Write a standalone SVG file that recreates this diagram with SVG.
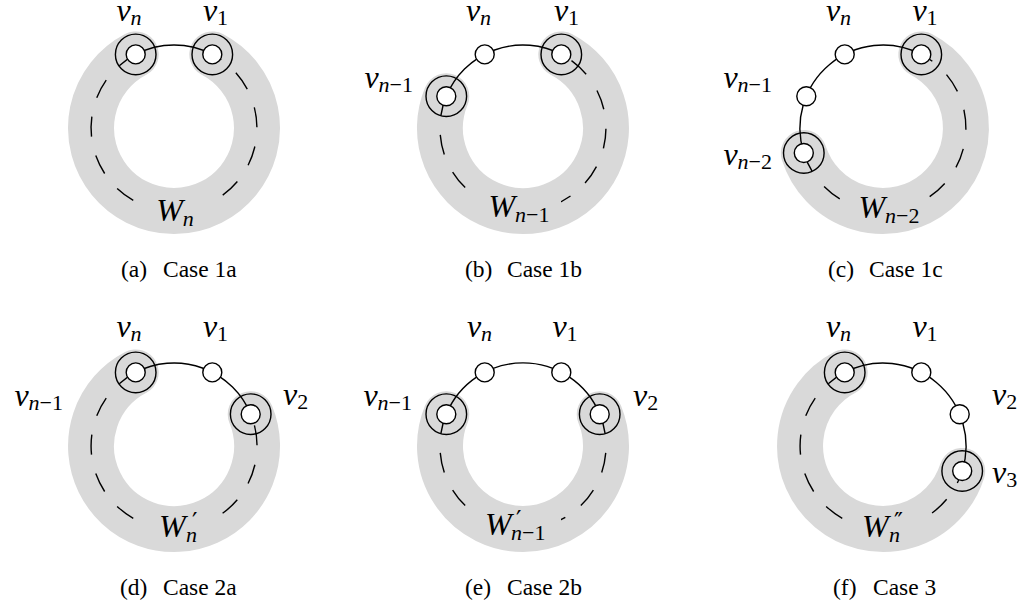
<svg xmlns="http://www.w3.org/2000/svg" width="1020" height="605" viewBox="0 0 1020 605">
<style>
.band{fill:none;stroke:#d9d9d9;stroke-width:46;stroke-linecap:round}
.dash{fill:none;stroke:#000;stroke-width:1.4;stroke-dasharray:20 19.5}
.edge{fill:none;stroke:#000;stroke-width:1.4}
.ring{fill:none;stroke:#000;stroke-width:1.4}
.node{fill:#fff;stroke:#000;stroke-width:1.4}
.bg{fill:#d9d9d9}
.m{font-family:"Liberation Serif",serif;font-style:italic;font-size:32px;fill:#000}
.s{font-size:22px}
.r{font-style:normal}
.p{font-family:"DejaVu Sans",sans-serif;font-style:normal;font-size:24px}
.cap{font-family:"Liberation Serif",serif;font-size:23.5px;fill:#000}
</style>
<rect width="1020" height="605" fill="#fff"/>

<!-- Panel (a) -->
<g id="panel-a">
  <g id="a-W">
    <path class="band" d="M135.7,54.4 A83,83 0 1 0 212.3,54.4"/>
  </g>
  <g id="a-connectors">
    <path class="dash" d="M135.7,54.4 A83,83 0 0 0 174,211"/>
    <path class="dash" style="stroke-dashoffset:9.5" d="M212.3,54.4 A83,83 0 0 1 174,211"/>
    <path class="edge" d="M135.7,54.4 A83,83 0 0 1 212.3,54.4"/>
  </g>
  <g id="a-W-label">
    <rect class="bg" x="146" y="196" width="61" height="31"/>
    <text class="m" x="175" y="221" text-anchor="middle">W<tspan class="s" dy="5">n</tspan></text>
  </g>
  <g id="a-vn"><circle class="ring" cx="135.7" cy="54.4" r="20.3"/><circle class="node" cx="135.7" cy="54.4" r="9.5"/>
    <text class="m" x="129" y="21" text-anchor="middle">v<tspan class="s" dy="4">n</tspan></text></g>
  <g id="a-v1"><circle class="ring" cx="212.3" cy="54.4" r="20.3"/><circle class="node" cx="212.3" cy="54.4" r="9.5"/>
    <text class="m" x="215.5" y="21" text-anchor="middle">v<tspan class="s r" dy="4">1</tspan></text></g>
  <text class="cap" y="277"><tspan x="121">(a)</tspan><tspan x="163">Case 1a</tspan></text>
</g>

<!-- Panel (b) -->
<g id="panel-b">
  <g id="b-W">
    <path class="band" d="M446.3,96.2 A83,83 0 1 0 561.3,54.4"/>
  </g>
  <g id="b-connectors">
    <path class="dash" d="M446.3,96.2 A83,83 0 0 0 523,211"/>
    <path class="dash" style="stroke-dashoffset:27.5" d="M561.3,54.4 A83,83 0 0 1 523,211"/>
    <path class="edge" d="M446.3,96.2 A83,83 0 0 1 561.3,54.4"/>
  </g>
  <g id="b-W-label">
    <rect class="bg" x="479" y="194" width="82" height="30"/>
    <text class="m" x="519" y="217" text-anchor="middle">W<tspan class="s" dy="5">n</tspan><tspan class="s r">−1</tspan></text>
  </g>
  <g id="b-vn1"><circle class="ring" cx="446.3" cy="96.2" r="20.3"/><circle class="node" cx="446.3" cy="96.2" r="9.5"/>
    <text class="m" x="413" y="88" text-anchor="end">v<tspan class="s" dy="4">n</tspan><tspan class="s r">−1</tspan></text></g>
  <g id="b-vn"><circle class="node" cx="484.7" cy="54.4" r="9.5"/>
    <text class="m" x="478.5" y="21" text-anchor="middle">v<tspan class="s" dy="4">n</tspan></text></g>
  <g id="b-v1"><circle class="ring" cx="561.3" cy="54.4" r="20.3"/><circle class="node" cx="561.3" cy="54.4" r="9.5"/>
    <text class="m" x="566.5" y="21" text-anchor="middle">v<tspan class="s r" dy="4">1</tspan></text></g>
  <text class="cap" y="277"><tspan x="465">(b)</tspan><tspan x="507">Case 1b</tspan></text>
</g>

<!-- Panel (c) -->
<g id="panel-c">
  <g id="c-W">
    <path class="band" d="M803.8,153 A83,83 0 1 0 921.3,54.4"/>
  </g>
  <g id="c-connectors">
    <path class="dash" d="M803.8,153 A83,83 0 0 0 883,211"/>
    <path class="dash" style="stroke-dashoffset:7" d="M921.3,54.4 A83,83 0 0 1 883,211"/>
    <path class="edge" d="M803.8,153 A83,83 0 0 1 921.3,54.4"/>
  </g>
  <g id="c-W-label">
    <rect class="bg" x="850" y="194" width="77" height="30"/>
    <text class="m" x="889" y="218" text-anchor="middle">W<tspan class="s" dy="5">n</tspan><tspan class="s r">−2</tspan></text>
  </g>
  <g id="c-vn2"><circle class="ring" cx="803.8" cy="153" r="20.3"/><circle class="node" cx="803.8" cy="153" r="9.5"/>
    <text class="m" x="772" y="165" text-anchor="end">v<tspan class="s" dy="4">n</tspan><tspan class="s r">−2</tspan></text></g>
  <g id="c-vn1"><circle class="node" cx="806.3" cy="96.2" r="9.5"/>
    <text class="m" x="772" y="88" text-anchor="end">v<tspan class="s" dy="4">n</tspan><tspan class="s r">−1</tspan></text></g>
  <g id="c-vn"><circle class="node" cx="844.7" cy="54.4" r="9.5"/>
    <text class="m" x="838.5" y="21" text-anchor="middle">v<tspan class="s" dy="4">n</tspan></text></g>
  <g id="c-v1"><circle class="ring" cx="921.3" cy="54.4" r="20.3"/><circle class="node" cx="921.3" cy="54.4" r="9.5"/>
    <text class="m" x="925" y="21" text-anchor="middle">v<tspan class="s r" dy="4">1</tspan></text></g>
  <text class="cap" y="277"><tspan x="828">(c)</tspan><tspan x="869">Case 1c</tspan></text>
</g>

<!-- Panel (d) -->
<g id="panel-d">
  <g id="d-W">
    <path class="band" d="M135.7,372.4 A83,83 0 1 0 250.7,414.2"/>
  </g>
  <g id="d-connectors">
    <path class="dash" d="M135.7,372.4 A83,83 0 0 0 174,529"/>
    <path class="dash" style="stroke-dashoffset:27.5" d="M250.7,414.2 A83,83 0 0 1 174,529"/>
    <path class="edge" d="M135.7,372.4 A83,83 0 0 1 250.7,414.2"/>
  </g>
  <g id="d-W-label">
    <rect class="bg" x="148" y="512" width="61" height="31"/>
    <text class="m" y="537"><tspan x="159">W</tspan><tspan class="p" x="192" y="530">′</tspan><tspan class="s" x="186" y="542">n</tspan></text>
  </g>
  <g id="d-vn"><circle class="ring" cx="135.7" cy="372.4" r="20.3"/><circle class="node" cx="135.7" cy="372.4" r="9.5"/>
    <text class="m" x="129" y="337" text-anchor="middle">v<tspan class="s" dy="4">n</tspan></text></g>
  <g id="d-v1"><circle class="node" cx="212.3" cy="372.4" r="9.5"/>
    <text class="m" x="215.5" y="337" text-anchor="middle">v<tspan class="s r" dy="4">1</tspan></text></g>
  <g id="d-v2"><circle class="ring" cx="250.7" cy="414.2" r="20.3"/><circle class="node" cx="250.7" cy="414.2" r="9.5"/>
    <text class="m" x="283" y="405">v<tspan class="s r" dy="4">2</tspan></text></g>
  <text class="m" x="63" y="406" text-anchor="end">v<tspan class="s" dy="4">n</tspan><tspan class="s r">−1</tspan></text>
  <text class="cap" y="595"><tspan x="120">(d)</tspan><tspan x="163">Case 2a</tspan></text>
</g>

<!-- Panel (e) -->
<g id="panel-e">
  <g id="e-W">
    <path class="band" d="M446.3,414.2 A83,83 0 1 0 599.7,414.2"/>
  </g>
  <g id="e-connectors">
    <path class="dash" d="M446.3,414.2 A83,83 0 0 0 523,529"/>
    <path class="dash" d="M599.7,414.2 A83,83 0 0 1 523,529"/>
    <path class="edge" d="M446.3,414.2 A83,83 0 0 1 599.7,414.2"/>
  </g>
  <g id="e-W-label">
    <rect class="bg" x="479" y="512" width="82" height="30"/>
    <text class="m" y="535"><tspan x="485">W</tspan><tspan class="p" x="516" y="528">′</tspan><tspan class="s" x="511" y="540">n</tspan><tspan class="s r">−1</tspan></text>
  </g>
  <g id="e-vn1"><circle class="ring" cx="446.3" cy="414.2" r="20.3"/><circle class="node" cx="446.3" cy="414.2" r="9.5"/>
    <text class="m" x="412" y="406" text-anchor="end">v<tspan class="s" dy="4">n</tspan><tspan class="s r">−1</tspan></text></g>
  <g id="e-vn"><circle class="node" cx="484.7" cy="372.4" r="9.5"/>
    <text class="m" x="479.5" y="337" text-anchor="middle">v<tspan class="s" dy="4">n</tspan></text></g>
  <g id="e-v1"><circle class="node" cx="561.3" cy="372.4" r="9.5"/>
    <text class="m" x="565" y="337" text-anchor="middle">v<tspan class="s r" dy="4">1</tspan></text></g>
  <g id="e-v2"><circle class="ring" cx="599.7" cy="414.2" r="20.3"/><circle class="node" cx="599.7" cy="414.2" r="9.5"/>
    <text class="m" x="633" y="406">v<tspan class="s r" dy="4">2</tspan></text></g>
  <text class="cap" y="595"><tspan x="465">(e)</tspan><tspan x="507">Case 2b</tspan></text>
</g>

<!-- Panel (f) -->
<g id="panel-f">
  <g id="f-W">
    <path class="band" d="M844.7,372.4 A83,83 0 1 0 962.2,471"/>
  </g>
  <g id="f-connectors">
    <path class="dash" d="M844.7,372.4 A83,83 0 0 0 883,529"/>
    <path class="dash" style="stroke-dashoffset:7" d="M962.2,471 A83,83 0 0 1 883,529"/>
    <path class="edge" d="M844.7,372.4 A83,83 0 0 1 962.2,471"/>
  </g>
  <g id="f-W-label">
    <rect class="bg" x="854" y="512" width="64" height="31"/>
    <text class="m" y="537"><tspan x="862">W</tspan><tspan class="p" x="894" y="530">″</tspan><tspan class="s" x="889" y="542">n</tspan></text>
  </g>
  <g id="f-vn"><circle class="ring" cx="844.7" cy="372.4" r="20.3"/><circle class="node" cx="844.7" cy="372.4" r="9.5"/>
    <text class="m" x="838.5" y="337" text-anchor="middle">v<tspan class="s" dy="4">n</tspan></text></g>
  <g id="f-v1"><circle class="node" cx="921.3" cy="372.4" r="9.5"/>
    <text class="m" x="925" y="337" text-anchor="middle">v<tspan class="s r" dy="4">1</tspan></text></g>
  <g id="f-v2"><circle class="node" cx="959.7" cy="414.2" r="9.5"/>
    <text class="m" x="992" y="405">v<tspan class="s r" dy="4">2</tspan></text></g>
  <g id="f-v3"><circle class="ring" cx="962.2" cy="471" r="20.3"/><circle class="node" cx="962.2" cy="471" r="9.5"/>
    <text class="m" x="992" y="483">v<tspan class="s r" dy="4">3</tspan></text></g>
  <text class="cap" y="595"><tspan x="833">(f)</tspan><tspan x="873">Case 3</tspan></text>
</g>
</svg>
